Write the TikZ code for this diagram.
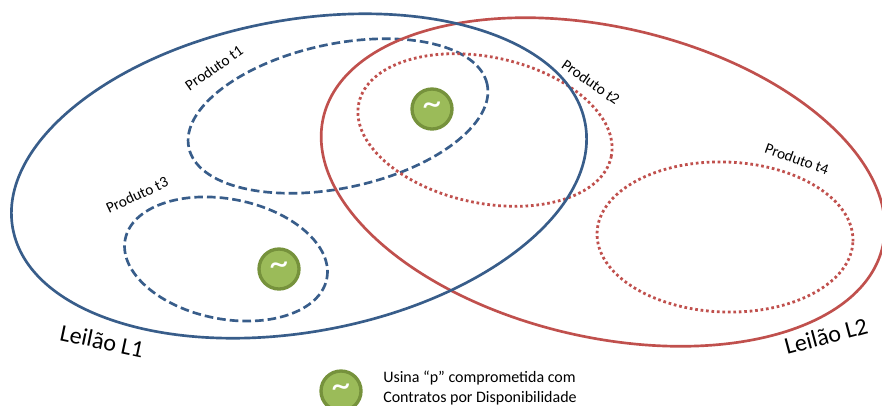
\documentclass[tikz,border=0pt]{standalone}
\usepackage{fontspec}
\setmainfont{Carlito}
\definecolor{leilaoblue}{HTML}{385D8A}
\definecolor{leilaored}{HTML}{C0504D}
\definecolor{usinafill}{HTML}{9BBB59}
\definecolor{usinaline}{HTML}{76923C}
\tikzset{
  leilao/.style={line width=2pt},
  produtoblue/.style={leilaoblue,line width=2pt,dash pattern=on 6.5pt off 3pt},
  produtored/.style={leilaored,line width=2.1pt,dash pattern=on 2pt off 2.1pt},
  usina/.style={circle,draw=usinaline,fill=usinafill,line width=2.5pt,minimum size=30pt,inner sep=0pt,text=white,font=\fontsize{28}{28}\selectfont},
  produtolabel/.style={font=\fontsize{11.5}{13}\selectfont},
  leilaolabel/.style={font=\fontsize{18}{20}\selectfont},
}
\begin{document}
\begin{tikzpicture}[x=0.75pt,y=0.75pt]
      \useasboundingbox (0,0) rectangle (882,405);
      \clip (0,0) rectangle (882,405);

      \draw[produtoblue]
            (338,405-116) ellipse[x radius=152.5,y radius=72,rotate=12];
      \draw[produtoblue]
            (226,405-259) ellipse[x radius=102.7,y radius=60,rotate=-11];
      \draw[produtored]
            (485,405-130) ellipse[x radius=129,y radius=73,rotate=-12];
      \draw[produtored]
            (725,405-237) ellipse[x radius=128,y radius=75,rotate=-2];

      \draw[leilao,leilaored]
            (603,405-182) ellipse[x radius=287,y radius=155,rotate=-13];
      \draw[leilao,leilaoblue]
            (299,405-176) ellipse[x radius=291,y radius=156,rotate=10.4];

      \node[usina] (usinaA) at (432,405-109) {\textasciitilde};
      \node[usina] (usinaB) at (279,405-269) {\textasciitilde};
      \node[usina] (usinaC) at (341,405-391) {\textasciitilde};

      \node[produtolabel,rotate=35] (labelT1) at (214,405-68) {Produto t1};
      \node[produtolabel,rotate=-35] (labelT2) at (591,405-82) {Produto t2};
      \node[produtolabel,rotate=25] (labelT3) at (137,405-195) {Produto t3};
      \node[produtolabel,rotate=-20] (labelT4) at (797,405-159) {Produto t4};
      \node[leilaolabel,rotate=-12] (labelL1) at (102,405-341) {Leilão L1};
      \node[leilaolabel,rotate=15] (labelL2) at (826,405-336) {Leilão L2};

      \node[anchor=west,font=\fontsize{12}{14.5}\selectfont,align=left,inner sep=0pt] (legenda) at (383,405-388)
            {Usina “p” comprometida com\\Contratos por Disponibilidade};
\end{tikzpicture}
\end{document}
